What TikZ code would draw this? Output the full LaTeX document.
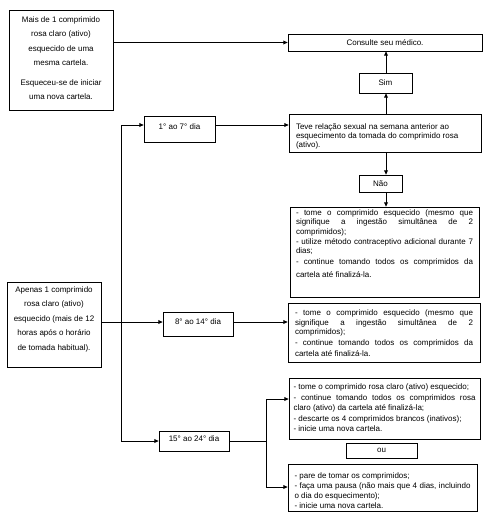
\documentclass[tikz,border=0pt]{standalone}
\usepackage{fontspec}
\setmainfont{Liberation Sans}
\usetikzlibrary{arrows.meta}
\tikzset{
  bx/.style={draw, line width=0.8pt, rectangle, inner sep=0pt, anchor=center, font=\fontsize{8}{9.6}\selectfont},
  arr/.style={line width=0.8pt, -{Triangle[length=4.2pt,width=3.8pt]}},
  ln/.style={line width=0.8pt},
}
\newcommand{\tbx}[4]{\parbox[c][#1][t]{#2}{\vspace*{#3}#4}}
\begin{document}
\begin{tikzpicture}[x=1pt,y=-1pt]
\useasboundingbox (0,0) rectangle (487,519);
% left boxes
\node[bx, minimum width=104pt, minimum height=100pt] (A) at (61,60)
  {\tbx{100pt}{100pt}{6.5pt}{\centering\fontsize{8}{14.4}\selectfont Mais de 1 comprimido\\ rosa claro (ativo)\\ esquecido de uma\\ mesma cartela.\\[5.5pt] Esqueceu-se de iniciar\\ uma nova cartela.}};
\node[bx, minimum width=94pt, minimum height=85pt] (P) at (54,324.5)
  {\tbx{85pt}{94pt}{4.5pt}{\centering\fontsize{8}{14.5}\selectfont Apenas 1 comprimido\\ rosa claro (ativo)\\ esquecido (mais de 12\\ horas após o horário\\ de tomada habitual).}};
% right column small boxes
\node[bx, minimum width=194pt, minimum height=17pt] (cons) at (385,42.5) {Consulte seu médico.};
\node[bx, minimum width=53pt, minimum height=20pt] (sim) at (385.5,83) {Sim};
\node[bx, minimum width=43pt, minimum height=17pt] (nao) at (380.5,183.5) {Não};
\node[bx, minimum width=71pt, minimum height=15pt] (ou) at (381.5,450.5) {ou};
% day boxes
\node[bx, minimum width=71pt, minimum height=26pt, text height=6pt, text depth=6pt] (d1) at (179.5,129) {1° ao 7° dia};
\node[bx, minimum width=70pt, minimum height=24pt, text height=6pt, text depth=4.5pt] (d8) at (198,324) {8° ao 14° dia};
\node[bx, minimum width=70pt, minimum height=20pt, text height=6pt, text depth=4.5pt] (d15) at (194,441) {15° ao 24° dia};
% text boxes
\node[bx, minimum width=192pt, minimum height=38pt] (teve) at (385,133)
  {\tbx{38pt}{178pt}{9.5pt}{\raggedright\fontsize{8}{9.3}\selectfont Teve relação sexual na semana anterior ao\\ esquecimento da tomada do comprimido rosa\\ (ativo).}};
\node[bx, minimum width=189pt, minimum height=90pt] (B) at (384.5,252)
  {\tbx{90pt}{177pt}{2.8pt}{\fontsize{8}{9.3}\selectfont - tome o comprimido esquecido (mesmo que\linebreak signifique a ingestão simultânea de 2\linebreak comprimidos);\\[1.2pt] - utilize método contraceptivo adicional durante 7\linebreak dias;\\[1.2pt] - continue tomando todos os comprimidos da\vadjust{\vskip3.4pt}\linebreak cartela até finalizá-la.}};
\node[bx, minimum width=192pt, minimum height=59pt] (C) at (384,332.5)
  {\tbx{59pt}{178pt}{7pt}{\fontsize{8}{9.3}\selectfont - tome o comprimido esquecido (mesmo que\linebreak signifique a ingestão simultânea de 2\linebreak comprimidos);\\[1.4pt] - continue tomando todos os comprimidos da\vadjust{\vskip1.8pt}\linebreak cartela até finalizá-la.}};
\node[bx, minimum width=191pt, minimum height=61pt] (D) at (384.5,408.5)
  {\tbx{61pt}{182pt}{5.2pt}{\fontsize{8}{9.6}\selectfont - tome o comprimido rosa claro (ativo) esquecido;\\[1.8pt] - continue tomando todos os comprimidos rosa\linebreak claro (ativo) da cartela até finalizá-la;\\[1.8pt] - descarte os 4 comprimidos brancos (inativos);\\[0.5pt] - inicie uma nova cartela.}};
\node[bx, minimum width=189pt, minimum height=47pt] (E) at (382.5,487.5)
  {\tbx{47pt}{176pt}{8.3pt}{\fontsize{8}{10.2}\selectfont - pare de tomar os comprimidos;\\ - faça uma pausa (não mais que 4 dias, incluindo\linebreak o dia do esquecimento);\\ - inicie uma nova cartela.}};
% connectors
\coordinate (colx) at (386,0);
\draw[arr] (A.east |- cons) -- (cons.west);
\draw[arr] (teve.north -| colx) -- (sim.south -| colx);
\draw[arr] (sim.north -| colx) -- (cons.south -| colx);
\draw[arr] (teve.south -| colx) -- (nao.north -| colx);
\draw[arr] (nao.south -| colx) -- (B.north -| colx);
\coordinate (v1) at (121,125);
\coordinate (v2) at (121,441);
\draw[arr] (v1) -- (d1.west |- v1);
\draw[arr] (v1) -- (v2) -- (d15.west |- v2);
\draw[arr] (d1.east |- v1) -- (teve.west |- v1);
\coordinate (h8) at (0,322);
\draw[arr] (P.east |- h8) -- (d8.west |- h8);
\draw[arr] (d8.east |- h8) -- (C.west |- h8);
\coordinate (br) at (266,441);
\coordinate (yd) at (0,399);
\coordinate (ye) at (0,487);
\draw[ln] (d15.east |- br) -- (br);
\draw[arr] (br) |- (D.west |- yd);
\draw[arr] (br) |- (E.west |- ye);
\end{tikzpicture}
\end{document}
